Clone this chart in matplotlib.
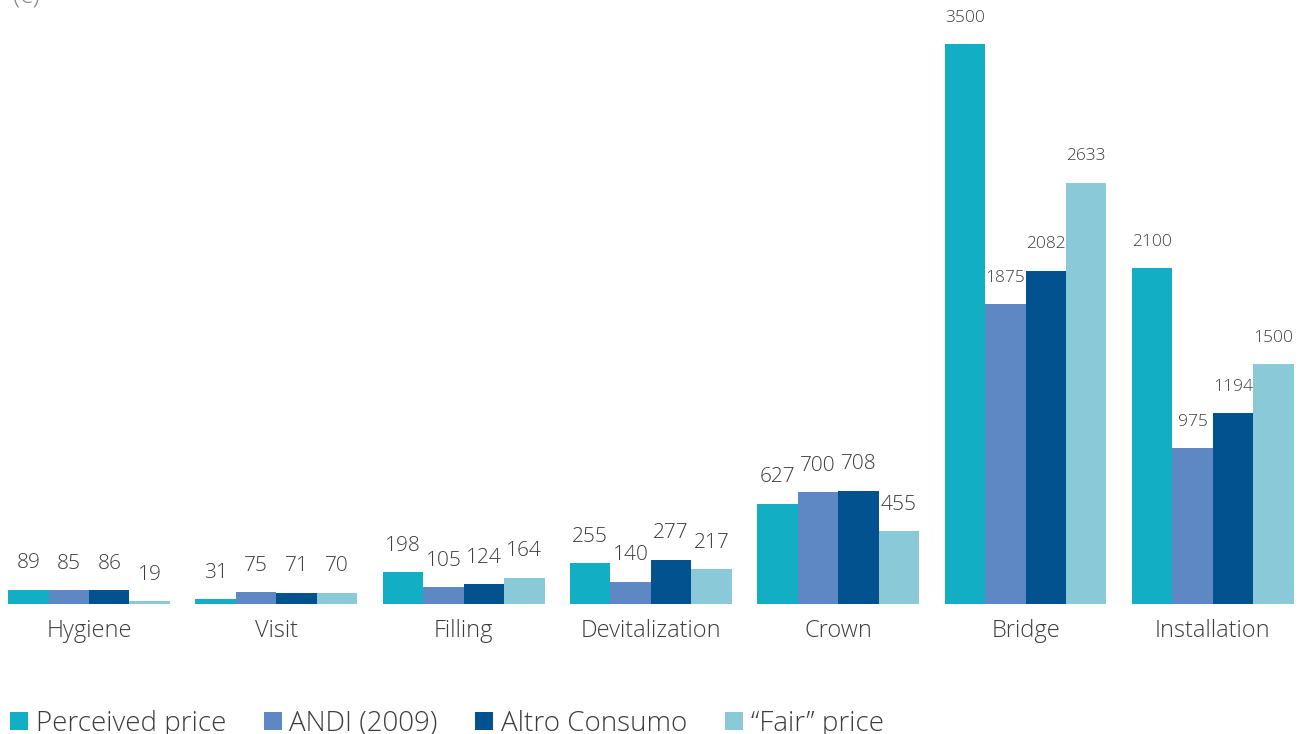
import numpy as np
import matplotlib.pyplot as plt
from matplotlib.patches import Patch

plt.rcParams['font.family'] = ['Open Sans', 'DejaVu Sans']
plt.rcParams['font.weight'] = 'light'

categories = ['Hygiene', 'Visit', 'Filling', 'Devitalization', 'Crown', 'Bridge', 'Installation']
series = ['Perceived price', 'ANDI (2009)', 'Altro Consumo', '\u201cFair\u201d price']
perceived = [89, 31, 198, 255, 627, 3500, 2100]
andi = [85, 75, 105, 140, 700, 1875, 975]
altro = [86, 71, 124, 277, 708, 2082, 1194]
fair = [19, 70, 164, 217, 455, 2633, 1500]
colors = ['#12afc4', '#5e88c4', '#02528f', '#8acad8']

values = [perceived, andi, altro, fair]
text_col = '#3d3d3d'

fig = plt.figure(figsize=(13.01, 7.34), dpi=100)
ax = fig.add_axes([0, 130 / 734, 1, 604 / 734])

x = np.arange(len(categories))
w = 0.216
for k, vals in enumerate(values):
    pos = x + (k - 1.5) * w
    ax.bar(pos, vals, width=w, color=colors[k])
    for i, (p, v) in enumerate(zip(pos, vals)):
        fs = 12.5 if categories[i] in ('Bridge', 'Installation') else 15
        ax.annotate(str(v), (p, v), xytext=(0, 19), textcoords='offset points',
                    ha='center', va='center', fontsize=fs, color=text_col)

ax.set_xlim(-89 / 187.3, (1301 - 89) / 187.3)
ax.set_ylim(0, 3775)
ax.axis('off')

for i, c in enumerate(categories):
    ax.text(x[i], -170, c, ha='center', va='center', fontsize=17, color=text_col)

fig.text(0.01, 1.006, '(c)', ha='left', va='center', fontsize=19, color='#888888')

handles = [Patch(facecolor=colors[k], edgecolor='none') for k in range(4)]
fig.legend(handles, series, loc='lower left', bbox_to_anchor=(-0.001, -0.02), ncol=4,
           frameon=False, fontsize=20, handlelength=0.65, handleheight=0.65,
           handletextpad=0.28, columnspacing=1.35, borderaxespad=0, labelcolor=text_col)

fig.savefig('out.png', dpi=100)
